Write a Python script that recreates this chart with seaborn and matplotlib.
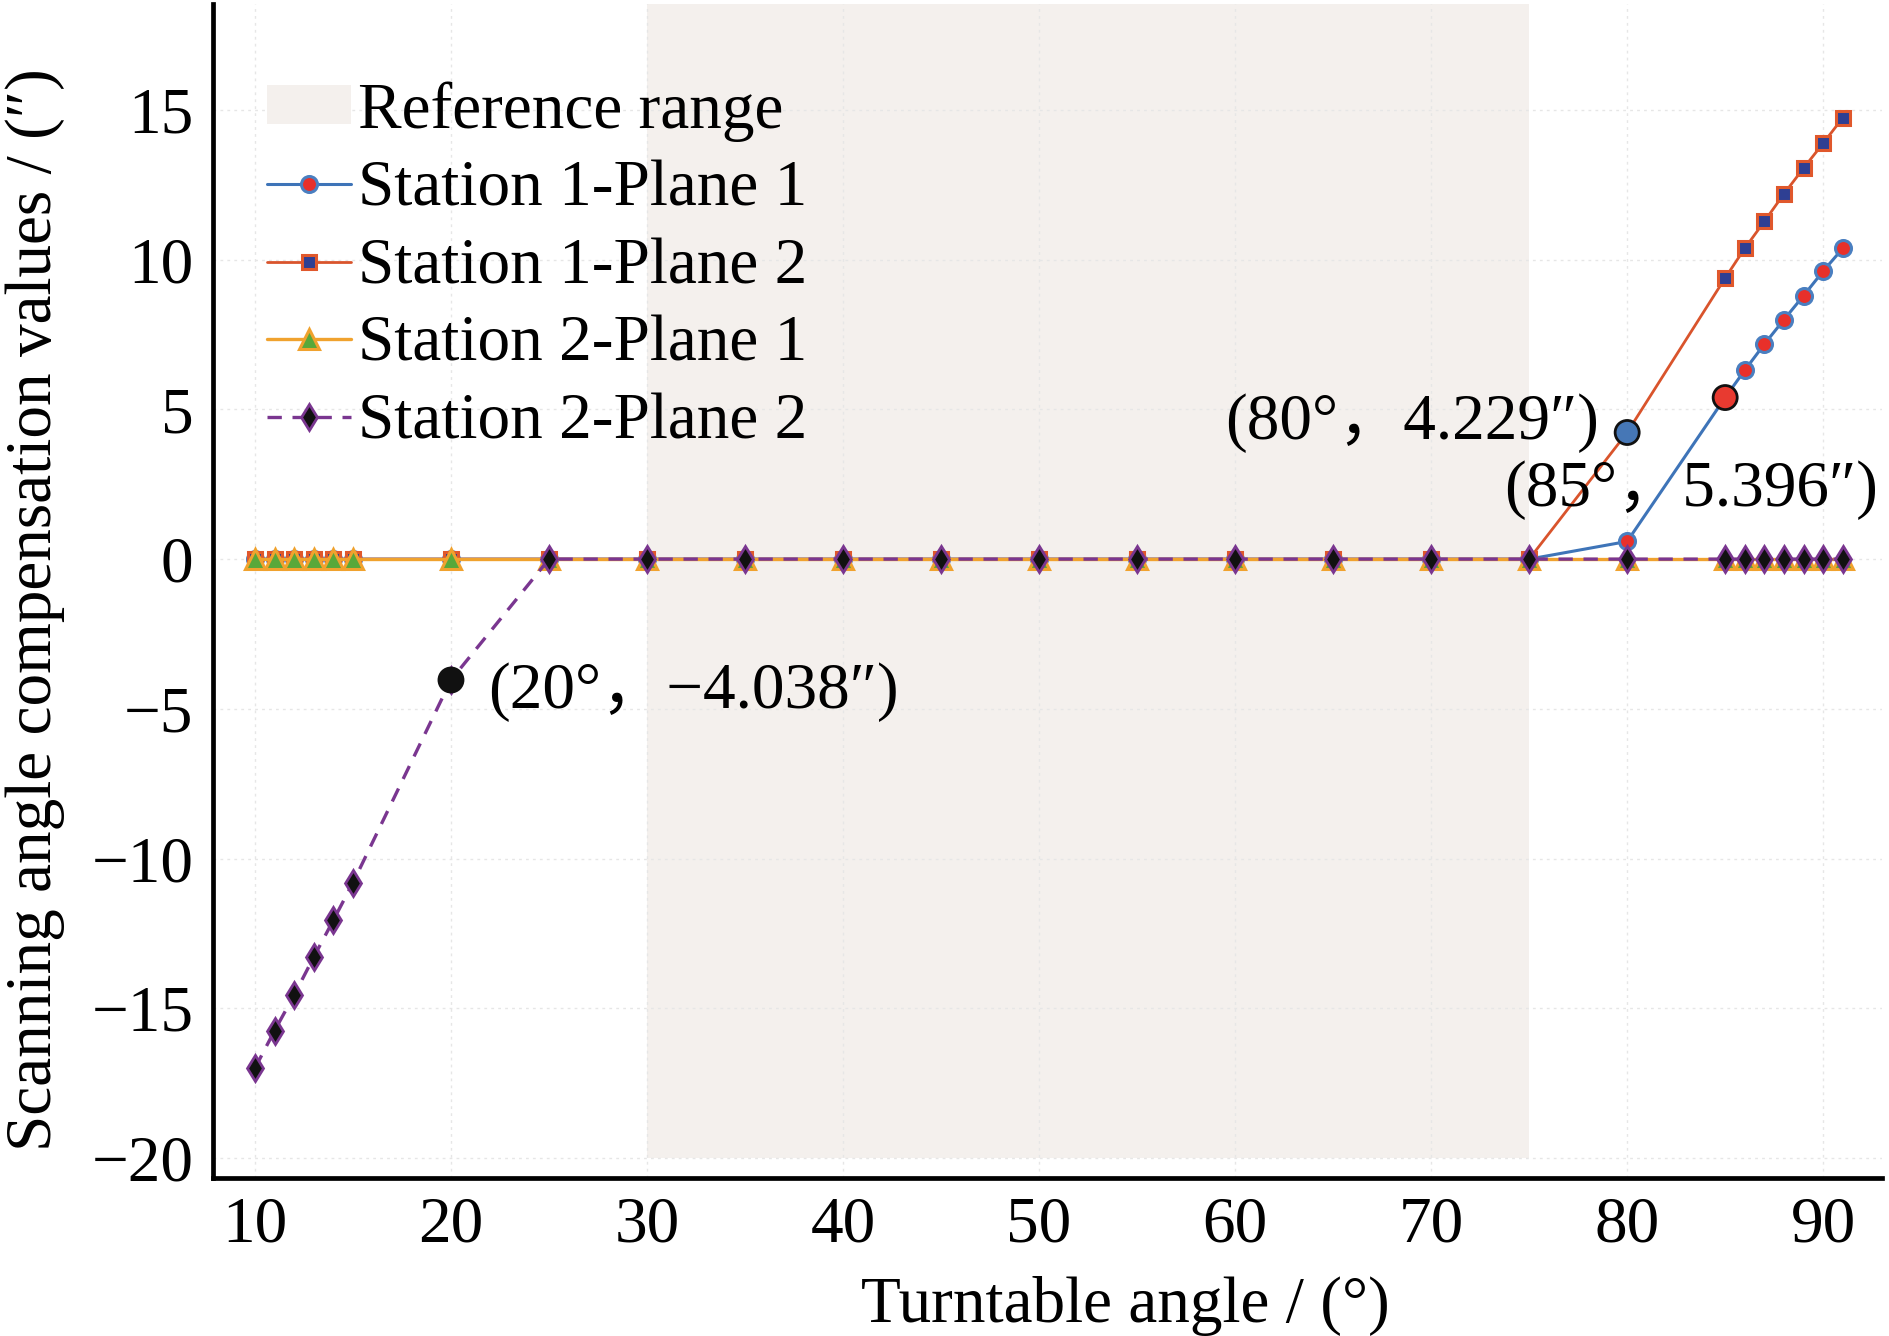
import matplotlib
matplotlib.use("Agg")
import matplotlib.pyplot as plt
import seaborn as sns
import numpy as np
import pandas as pd

# ---------------- data ----------------
angles = [10, 11, 12, 13, 14, 15, 20, 25, 30, 35, 40, 45, 50, 55, 60, 65, 70, 75,
          80, 85, 86, 87, 88, 89, 90, 91]
s1_plane1 = [0, 0, 0, 0, 0, 0, 0, 0, 0, 0, 0, 0, 0, 0, 0, 0, 0, 0,
             0.59, 5.396, 6.31, 7.18, 8.0, 8.80, 9.62, 10.38]
s1_plane2 = [0, 0, 0, 0, 0, 0, 0, 0, 0, 0, 0, 0, 0, 0, 0, 0, 0, 0,
             4.229, 9.39, 10.38, 11.28, 12.2, 13.06, 13.89, 14.74]
s2_plane1 = [0, 0, 0, 0, 0, 0, 0, 0, 0, 0, 0, 0, 0, 0, 0, 0, 0, 0,
             0, 0, 0, 0, 0, 0, 0, 0]
s2_plane2 = [-17.0, -15.75, -14.56, -13.29, -12.06, -10.81, -4.038, 0, 0, 0, 0, 0, 0,
             0, 0, 0, 0, 0, 0, 0, 0, 0, 0, 0, 0, 0]

series_names = ["Station 1-Plane 1", "Station 1-Plane 2", "Station 2-Plane 1", "Station 2-Plane 2"]
ref_range = [30, 75]
ref_label = "Reference range"

ann_x = [20, 80, 85]
ann_y = [-4.038, 4.229, 5.396]
ann_text = ["(20°，−4.038″)", "(80°，4.229″)", "(85°，5.396″)"]

x_ticks = [10, 20, 30, 40, 50, 60, 70, 80, 90]
y_ticks = [-20, -15, -10, -5, 0, 5, 10, 15]
x_label = "Turntable angle / (°)"
y_label = "Scanning angle compensation values / (″)"

# ---------------- style ----------------
sns.set_theme(style="white")
plt.rcParams["font.family"] = ["Liberation Serif", "DejaVu Serif", "Noto Sans CJK SC"]
plt.rcParams["axes.unicode_minus"] = True
plt.rcParams["text.color"] = "#000000"
plt.rcParams["axes.labelcolor"] = "#000000"
FS = 47

W, H = 1890, 1336
fig = plt.figure(figsize=(W / 100, H / 100), dpi=100)
ax_l, ax_r, ax_b, ax_t = 213, 1882, 1178, 4
ax = fig.add_axes([ax_l / W, (H - ax_b) / H, (ax_r - ax_l) / W, (ax_b - ax_t) / H])

xlim = (7.86, 93.0)
ylim = (-20.67, 18.54)
ax.set_xlim(*xlim)
ax.set_ylim(*ylim)

# grid
ax.set_axisbelow(True)
ax.grid(True, color="#e6e6e6", linestyle=(0, (2, 3)), linewidth=1.0, zorder=0.5)

# reference range shading
span = ax.fill_between(ref_range, -20, ylim[1], color="#f4f0ed", linewidth=0,
                       zorder=0.3, label=ref_label)

df = pd.DataFrame({"angle": angles, series_names[0]: s1_plane1, series_names[1]: s1_plane2,
                   series_names[2]: s2_plane1, series_names[3]: s2_plane2})

styles = [
    dict(color="#3e74b8", lw=2.2, marker="o", ms=11.5, mfc="#e8302a", mec="#4a7fc0", mew=2.2, ls="-"),
    dict(color="#d9542c", lw=2.0, marker="s", ms=9.5, mfc="#2e3f93", mec="#e0582c", mew=2.2, ls="-"),
    dict(color="#f0a22e", lw=2.4, marker="^", ms=14, mfc="#58a83a", mec="#f0a22e", mew=2.2, ls="-"),
    dict(color="#7a3690", lw=2.4, marker="d", ms=13.5, mfc="#111111", mec="#7a3690", mew=2.0,
         ls=(0, (4.3, 3.2))),
]

handles = [span]
for i, name in enumerate(series_names):
    st = styles[i]
    sns.lineplot(data=df, x="angle", y=name, ax=ax, errorbar=None, sort=False,
                 color=st["color"], linewidth=st["lw"], linestyle=st["ls"],
                 marker=st["marker"], markersize=st["ms"], markerfacecolor=st["mfc"],
                 markeredgecolor=st["mec"], markeredgewidth=st["mew"], label=name,
                 zorder=3 + i, legend=False)
    line = ax.lines[-1]
    line.set_label(name)
    handles.append(line)

# highlighted points
ann_colors = ["#111111", "#4677b6", "#e83a30"]
sns.scatterplot(x=ann_x, y=ann_y, ax=ax, s=300, c=ann_colors, edgecolor="#111111",
                linewidth=2.0, zorder=10, legend=False)

ax.text(21.89, -4.44, ann_text[0], fontsize=FS, ha="left", va="center", zorder=11)
ax.text(78.57, 4.54, ann_text[1], fontsize=FS, ha="right", va="center", zorder=11)
ax.text(73.72, 2.30, ann_text[2], fontsize=FS, ha="left", va="center", zorder=11)

# axes styling
for side in ["top", "right"]:
    ax.spines[side].set_visible(False)
for side in ["left", "bottom"]:
    ax.spines[side].set_linewidth(3.4)
    ax.spines[side].set_color("#000000")

ax.set_xticks(x_ticks)
ax.set_yticks(y_ticks)
ax.tick_params(axis="both", direction="in", length=15, width=3, color="#000000",
               labelsize=FS, labelcolor="#000000")
ax.tick_params(axis="x", pad=13)
ax.tick_params(axis="y", pad=14)

ax.set_xlabel(x_label, fontsize=FS, color="#000000")
ax.set_ylabel(y_label, fontsize=FS, color="#000000")
ax.xaxis.set_label_coords((1125 - ax_l) / (ax_r - ax_l), -(1322 - ax_b) / (ax_b - ax_t))
ax.xaxis.label.set_va("baseline")
ax.yaxis.set_label_coords((65 - ax_l) / (ax_r - ax_l), (ax_b - 610) / (ax_b - ax_t))

leg = ax.legend(handles=handles, labels=[ref_label] + series_names, loc="upper left",
                bbox_to_anchor=((267 - ax_l) / (ax_r - ax_l), (ax_b - 81) / (ax_b - ax_t)),
                frameon=False, fontsize=FS, borderpad=0, borderaxespad=0,
                handlelength=1.29, handleheight=0.55, handletextpad=0.1,
                labelspacing=0.28)
for t in leg.get_texts():
    t.set_color("#000000")

fig.savefig("out.png", dpi=100)
